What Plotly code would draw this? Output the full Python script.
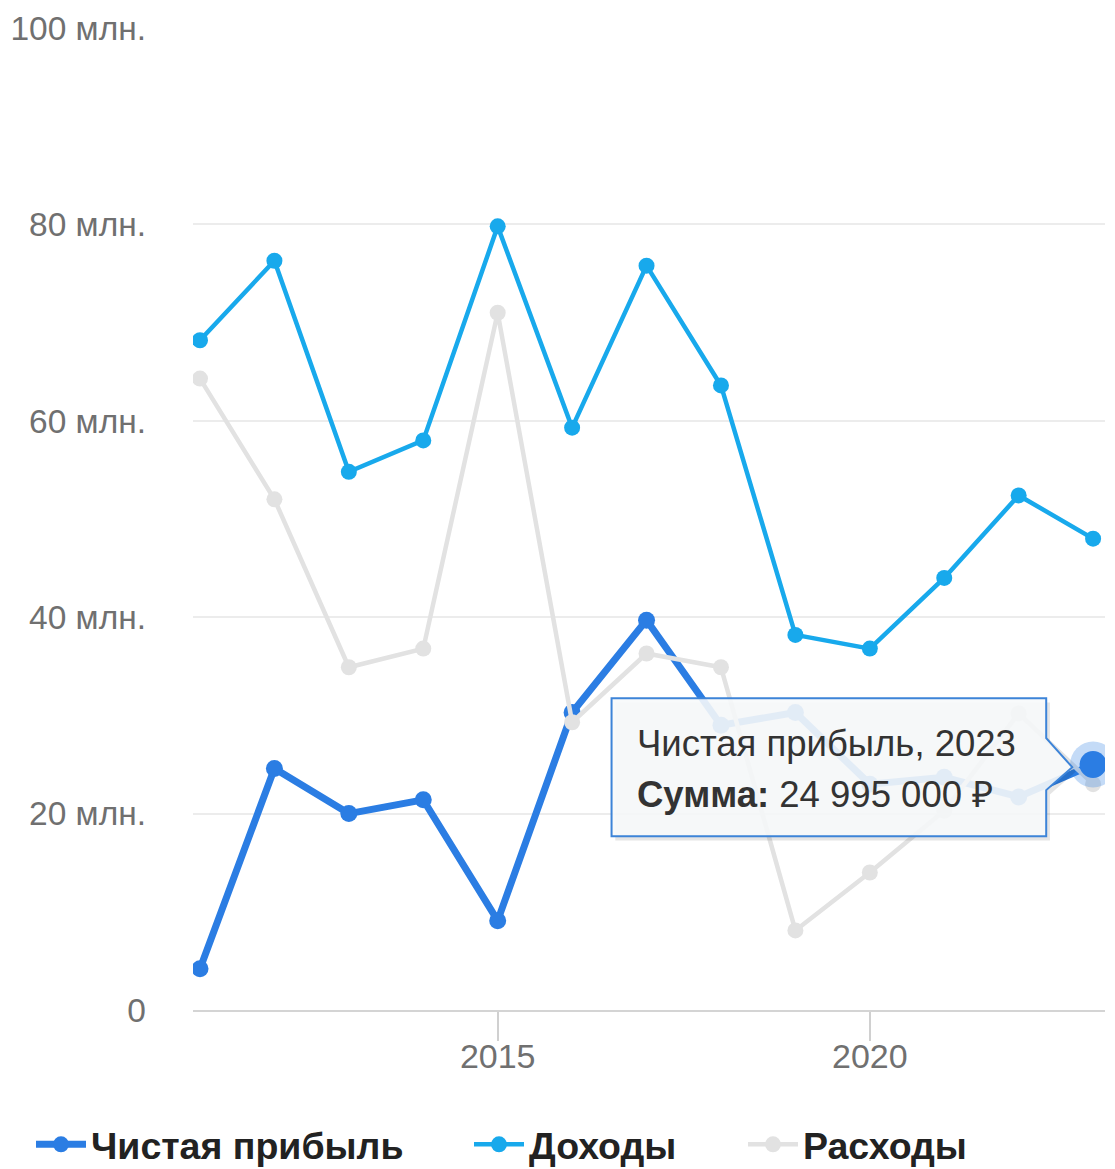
import plotly.graph_objects as go

years = [2011, 2012, 2013, 2014, 2015, 2016, 2017, 2018, 2019, 2020, 2021, 2022, 2023]
profit = [4.2, 24.6, 20.0, 21.4, 9.1, 30.3, 39.7, 29.0, 30.3, 23.0, 23.7, 21.7, 24.995]
income = [68.2, 76.3, 54.8, 58.0, 79.8, 59.3, 75.8, 63.6, 38.2, 36.8, 44.0, 52.4, 48.0]
expenses = [64.3, 52.0, 34.9, 36.8, 71.0, 29.3, 36.3, 34.9, 8.1, 14.0, 20.3, 30.2, 23.0]

series_names = ["Чистая прибыль", "Доходы", "Расходы"]
y_tick_vals = [0, 20, 40, 60, 80, 100]
y_tick_text = ["0", "20 млн.", "40 млн.", "60 млн.", "80 млн.", "100 млн."]
x_tick_vals = [2015, 2020]
tooltip_title = "Чистая прибыль, 2023"
tooltip_label = "Сумма:"
tooltip_value = "24 995 000 ₽"

FONT = "Liberation Sans, Arial, sans-serif"
C_PROFIT = "#2b7de3"
C_INCOME = "#18a9ec"
C_EXP = "#e2e2e2"
TICK_C = "#707070"

fig = go.Figure()
fig.add_trace(go.Scatter(x=years, y=profit, name=series_names[0], mode="lines+markers",
                         legend="legend",
                         line=dict(color=C_PROFIT, width=7), marker=dict(size=17, color=C_PROFIT)))
fig.add_trace(go.Scatter(x=years, y=income, name=series_names[1], mode="lines+markers",
                         legend="legend2",
                         line=dict(color=C_INCOME, width=4.5), marker=dict(size=16, color=C_INCOME)))
fig.add_trace(go.Scatter(x=years, y=expenses, name=series_names[2], mode="lines+markers",
                         legend="legend3",
                         line=dict(color=C_EXP, width=4.5), marker=dict(size=16, color=C_EXP)))
# highlighted point
fig.add_trace(go.Scatter(x=[years[-1]], y=[profit[-1]], mode="markers", showlegend=False,
                         hoverinfo="skip",
                         marker=dict(size=46, color="rgba(43,125,227,0.28)")))
fig.add_trace(go.Scatter(x=[years[-1]], y=[profit[-1]], mode="markers", showlegend=False,
                         hoverinfo="skip",
                         marker=dict(size=27, color=C_PROFIT)))

# tooltip geometry relative to the highlighted point
px_, py_ = years[-1], profit[-1]
L, R = px_ - 6.47, px_ - 0.63
T, B = py_ + 6.76, py_ - 7.29
a1, a2 = py_ + 2.69, py_ - 2.6
tipx, tipy = px_ - 0.28, py_ - 0.27

def outline(dx=0.0, dy=0.0):
    return (f"M {L+dx},{T+dy} L {R+dx},{T+dy} L {R+dx},{a1+dy} L {tipx+dx},{tipy+dy} "
            f"L {R+dx},{a2+dy} L {R+dx},{B+dy} L {L+dx},{B+dy} Z")

fig.add_shape(type="path", path=outline(0.05, -0.45), xref="x", yref="y",
              fillcolor="rgba(0,0,0,0.10)", line=dict(width=0))
fig.add_shape(type="path", path=outline(), xref="x", yref="y",
              fillcolor="rgba(247,249,251,0.9)", line=dict(color="#3d84d8", width=2))

fig.add_annotation(x=L + 0.32, y=py_ + 2.1, xref="x", yref="y", text=tooltip_title,
                   showarrow=False, xanchor="left", yanchor="middle",
                   font=dict(family=FONT, size=36.5, color="#333333"))
fig.add_annotation(x=L + 0.32, y=py_ - 3.0, xref="x", yref="y",
                   text=f"<b>{tooltip_label}</b> {tooltip_value}",
                   showarrow=False, xanchor="left", yanchor="middle",
                   font=dict(family=FONT, size=36.5, color="#333333"))

leg_common = dict(orientation="h", xref="container", yref="container", y=0.021,
                  xanchor="left", yanchor="middle", itemwidth=50,
                  font=dict(family=FONT, size=37.5, color="#222222", weight="bold"),
                  bgcolor="rgba(0,0,0,0)")

fig.update_layout(
    width=1115, height=1169,
    margin=dict(l=193, r=10, t=28, b=159),
    paper_bgcolor="white", plot_bgcolor="white",
    font=dict(family=FONT, size=33, color=TICK_C),
    showlegend=True,
    legend=dict(x=31 / 1115, **leg_common),
    legend2=dict(x=469 / 1115, **leg_common),
    legend3=dict(x=743 / 1115, **leg_common),
    hovermode=False,
)
fig.update_xaxes(range=[2010.906, 2023.16], tickvals=x_tick_vals, showgrid=False,
                 ticks="outside", ticklen=29, tickwidth=2, tickcolor="#d0d0d0",
                 showline=True, linecolor="#d4d4d4", linewidth=2, zeroline=False,
                 ticklabelstandoff=-14,
                 tickfont=dict(family=FONT, size=34, color=TICK_C))
fig.update_yaxes(range=[0, 100], tickvals=y_tick_vals, ticktext=y_tick_text,
                 showgrid=True, gridcolor="#ececec", gridwidth=2, zeroline=False,
                 ticklabelstandoff=46,
                 tickfont=dict(family=FONT, size=33.5, color=TICK_C))

fig.write_html("out.html", config={"displayModeBar": False},
               post_script="document.body.style.margin='0';")
